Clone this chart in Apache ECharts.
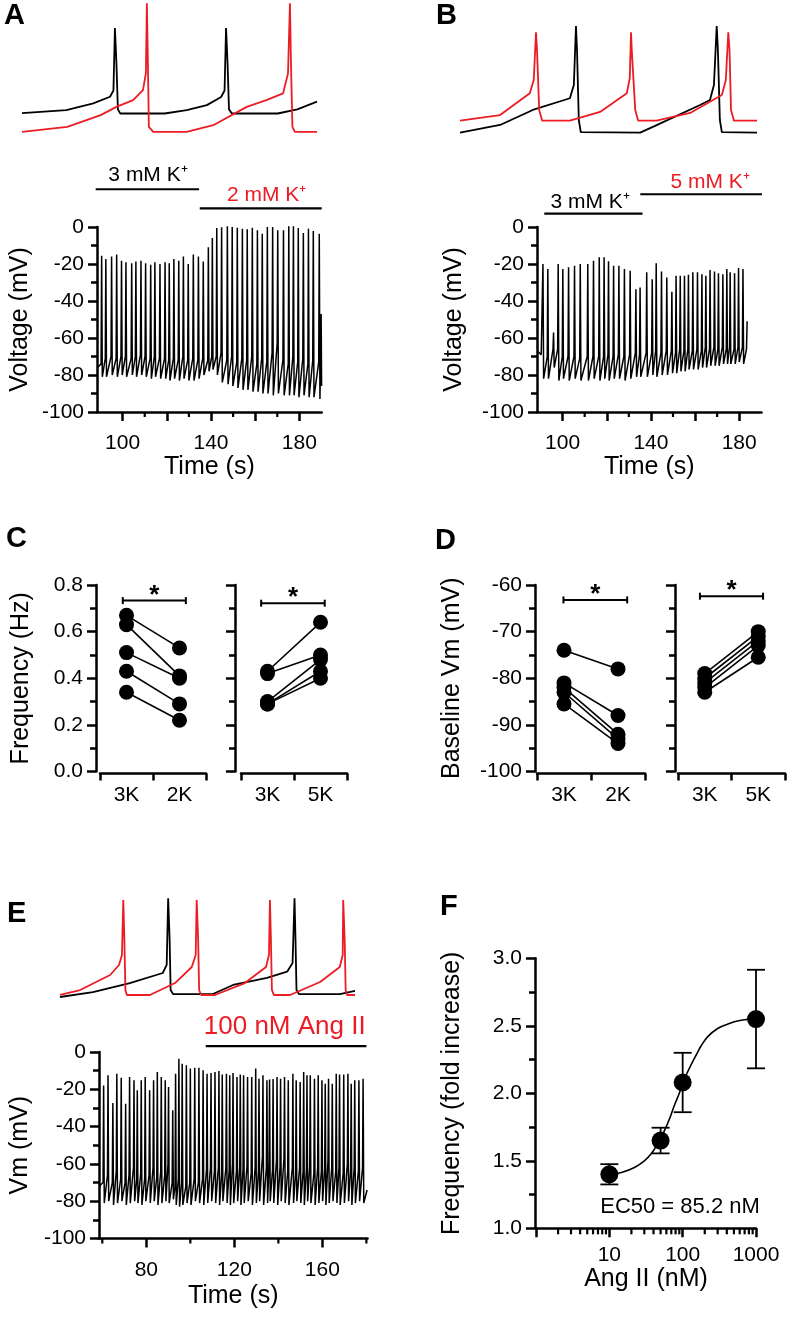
<!DOCTYPE html>
<html>
<head>
<meta charset="utf-8">
<script src="https://cdn.jsdelivr.net/npm/echarts@6.0.0/dist/echarts.min.js"></script>
<style>html,body{margin:0;padding:0;background:#fff;}#chart{width:793px;height:1317px;}</style>
</head>
<body>
<div id="chart"></div>
<script>
// ================= DATA =================
// Panel A inset traces (time s, mV; offset display)
const insetA_black = [[0,-83.2],[0.9,-80.7],[1.45,-74.9],[1.79,-69.3],[1.86,-64],[1.89,-11.2],[1.92,-40],[1.95,-80],[2.0,-83.5],[2.9,-83.5],[3.35,-80.7],[3.76,-76.4],[4.05,-69.5],[4.12,-64],[4.15,-11.2],[4.18,-40],[4.21,-80],[4.27,-83.5],[5.2,-83.5],[5.6,-80],[6.0,-73.5]];
const insetA_red = [[0,-99.1],[0.92,-94.8],[1.6,-84.9],[1.92,-77.9],[2.26,-72.2],[2.46,-63.7],[2.52,-49.3],[2.54,9.7],[2.56,-40],[2.58,-94.8],[2.67,-99.1],[3.35,-99.1],[3.89,-93.4],[4.57,-77.9],[4.97,-72.2],[5.31,-66.5],[5.41,-49.6],[5.45,9.7],[5.47,-40],[5.50,-94.8],[5.55,-99.1],[6.0,-99.1]];

// Panel A recording: spike times (s), peaks, after-spike troughs, pre-spike feet (mV)
const traceA_head = [[88.6,-76]];
const spikeA_time = [90.5,92.4,95.0,97.3,99.5,101.5,104.1,106.0,108.3,110.4,112.7,114.6,116.9,119.2,121.1,123.2,125.4,127.5,129.7,132.0,134.3,136.5,138.8,140.6,142.6,144.8,147.4,149.6,151.9,154.2,156.4,158.7,161.0,163.2,165.5,167.9,170.2,172.8,175.2,177.3,179.5,181.8,184.1,186.3,189.0];
const spikeA_peak = [-15.5,-17.3,-16,-14.9,-18.2,-19.1,-19.6,-18.7,-18.2,-19.6,-20.4,-19.1,-20,-19.1,-19.6,-17.3,-18.2,-16,-20,-14.9,-16,-18.7,-11,-6,-0.5,-0.2,1.2,0,-0.4,-1,-1.2,-0.4,-1.8,-3.6,0,0,-1.8,-1.8,1.2,0.8,-0.5,-3.2,-1,-2.2,-3.6];
const spikeA_trough = [-81,-81,-80,-81,-80,-81,-80,-81,-80,-81,-82,-81,-82,-82,-83,-82,-83,-82,-83,-83,-82,-80,-78,-77,-80,-84,-85,-86,-87,-88,-88,-89,-89,-90,-90,-91,-90,-91,-91,-91,-92,-91,-92,-92,-93];
const spikeA_foot = [-74,-71,-70,-71,-70,-70,-71,-70,-69,-70,-71,-70,-71,-71,-72,-71,-72,-70,-72,-71,-72,-71,-72,-70,-70,-68,-72,-70,-73,-71,-72,-70,-74,-71,-73,-68,-63,-72,-74,-70,-73,-71,-74,-72,-73];
const traceA_tail = [[189.6,-72],[189.85,-47],[190.05,-86]];
const condA_from = [87.8, 134.9];
const condA_to = [134.6, 190.1];
const condA_text = ['3 mM K\u207A', '2 mM K\u207A'];

// Panel B inset
const insetB_red = [[0,-89.6],[0.81,-84.8],[1.41,-66.4],[1.49,-55.2],[1.535,-14.8],[1.556,-29.8],[1.6,-80.5],[1.66,-89.6],[2.22,-89.6],[2.83,-82.2],[3.37,-66.4],[3.43,-53.5],[3.455,-14.8],[3.47,-29.8],[3.54,-80.5],[3.6,-89.6],[3.97,-89.6],[4.65,-83],[5.29,-67.8],[5.37,-55.2],[5.42,-14.8],[5.445,-29.8],[5.475,-80.5],[5.535,-89.6],[6.0,-89.6]];
const insetB_black = [[0,-99.7],[0.81,-93.2],[1.47,-80.5],[2.22,-70.6],[2.30,-59.4],[2.343,-9.5],[2.364,-29.8],[2.40,-89],[2.44,-99.2],[3.64,-99.7],[3.94,-94],[4.85,-76.3],[5.05,-72.1],[5.13,-59.4],[5.186,-9.5],[5.21,-29.8],[5.25,-89],[5.29,-99.2],[6.0,-99.7]];

// Panel B recording
const traceB_head = [[88.5,-67],[90.3,-69]];
const spikeB_time = [91.1,93.3,95.9,98.0,100.1,102.7,105.4,108.0,111.4,114.0,116.6,118.8,120.8,123.1,125.5,128.0,130.6,133.2,135.1,138.1,140.6,142.4,144.8,147.2,149.5,151.4,153.3,155.2,157.0,159.0,161.1,163.1,164.9,166.8,168.8,170.6,172.6,174.4,175.9,177.9,179.7,181.7];
const spikeB_peak = [-20,-22.7,-57,-20,-22.7,-21.8,-21,-20,-20,-18.2,-16.4,-16.4,-18.5,-21,-21,-22.7,-23.6,-33.6,-32.7,-24.5,-28.2,-19.6,-24,-27.3,-35,-26.4,-26.4,-26.4,-25.8,-24.5,-24.5,-25.5,-26.4,-23.3,-24,-25,-25.5,-22.7,-24.5,-25,-22.2,-22.7];
const spikeB_trough = [-82,-82,-76,-83,-82,-83,-82,-83,-83,-82,-83,-82,-83,-82,-82,-83,-82,-81,-81,-81,-80,-81,-80,-80,-79,-79,-78,-78,-77,-77,-77,-76,-76,-75,-75,-75,-74,-74,-74,-74,-73,-74];
const spikeB_foot = [-68,-70,-66,-66,-70,-70,-70,-71,-70,-70,-70,-70,-69,-70,-69,-70,-69,-68,-69,-68,-68,-67,-68,-67,-67,-68,-66,-67,-66,-67,-66,-67,-65,-66,-65,-66,-65,-66,-65,-66,-65,-65];
const traceB_tail = [[183.3,-66],[183.6,-51]];
const condB_from = [91.7, 135.2];
const condB_to = [136.2, 190.3];
const condB_text = ['3 mM K\u207A', '5 mM K\u207A'];

// Panel C: firing frequency (Hz), paired
const cat_C1 = ['3K', '2K'];
const freq_3K_a = [0.67, 0.63, 0.51, 0.43, 0.34];
const freq_2K = [0.53, 0.41, 0.40, 0.29, 0.22];
const cat_C2 = ['3K', '5K'];
const freq_3K_b = [0.43, 0.42, 0.30, 0.29, 0.29];
const freq_5K = [0.64, 0.50, 0.48, 0.43, 0.40];

// Panel D: baseline Vm (mV), paired
const vm_3K_a = [-74, -81, -82, -83, -85.5];
const vm_2K = [-78, -88, -92, -93, -94];
const vm_3K_b = [-79, -80, -81, -82, -83];
const vm_5K = [-70, -71, -72, -73, -75.5];

// Panel E inset
const insetE_red = [[0,-76.3],[0.41,-72.1],[1.02,-59.4],[1.20,-50.9],[1.26,-42.5],[1.287,4.1],[1.31,-29.8],[1.33,-72.1],[1.36,-76.3],[1.83,-76.3],[2.34,-66.2],[2.68,-52.6],[2.76,-42.5],[2.78,4.1],[2.81,-29.8],[2.83,-72.1],[2.87,-76.3],[3.15,-76.3],[3.76,-66.2],[4.19,-52.6],[4.25,-42.5],[4.27,4.1],[4.29,-29.8],[4.31,-72.1],[4.35,-76.3],[4.68,-76.3],[5.29,-65.3],[5.69,-52.6],[5.75,-42.5],[5.76,4.1],[5.79,-29.8],[5.81,-72.1],[5.84,-76.3],[6.0,-76.3]];
const insetE_black = [[0,-78],[0.67,-73.8],[1.42,-66.2],[2.09,-57.7],[2.17,-50.9],[2.20,5.5],[2.23,-29.8],[2.25,-72.1],[2.30,-75.5],[3.11,-75.5],[3.52,-67.8],[4.21,-61.9],[4.62,-56.6],[4.73,-49.2],[4.77,5.5],[4.79,-29.8],[4.81,-72.1],[4.86,-75.5],[5.69,-75.5],[6.0,-72.9]];

// Panel E recording
const traceE_head = [[58.6,-72]];
const spikeE_time = [60.6,62.6,64.8,66.6,68.6,70.6,72.4,74.4,75.9,77.7,79.5,81.5,83.3,85.0,86.8,88.6,90.1,92.0,93.3,94.8,96.3,98.2,100.0,102.0,103.9,105.8,107.6,109.4,111.2,113.0,114.5,116.4,117.9,119.4,121.2,122.7,124.2,126.0,127.9,129.7,131.2,133.0,134.8,136.0,137.6,139.4,141.0,142.8,144.5,146.6,148.1,149.9,151.5,153.0,154.5,156.4,158.1,159.8,161.3,162.8,164.5,166.3,167.8,169.7,171.6,173.1,174.7,176.6,178.5];
const spikeE_peak = [-17.9,-12.5,-27.3,-11.6,-13.8,-27.7,-13.4,-15.2,-20.5,-15.2,-13.4,-20.5,-15.2,-10.7,-13.4,-15.2,-18.8,-31.3,-11.6,-3.6,-6.3,-7.1,-8.9,-8.4,-8.4,-9.8,-11.6,-11.3,-10.7,-10.2,-12,-11.6,-12.5,-11.3,-13.4,-12,-12.5,-13.4,-13.4,-8.9,-14.3,-12.5,-15.2,-14.8,-14.5,-13.4,-14.3,-13.4,-15.2,-11.6,-15.2,-16.1,-10.7,-12.5,-12.5,-14.3,-12.5,-15.2,-17,-14.3,-17,-11.6,-12.1,-12,-11.6,-17,-15.2,-15.2,-14.3];
const spikeE_trough = [-81,-80,-82,-81,-80,-82,-81,-80,-81,-82,-80,-81,-80,-82,-81,-80,-81,-79,-82,-83,-82,-81,-82,-80,-81,-82,-81,-80,-81,-82,-80,-81,-82,-81,-80,-82,-81,-80,-82,-81,-80,-82,-81,-80,-81,-82,-80,-81,-82,-81,-80,-81,-82,-80,-81,-82,-81,-80,-82,-81,-80,-81,-82,-81,-80,-82,-81,-80,-81];
const spikeE_foot = [-70,-66,-70,-64,-68,-70,-66,-62,-68,-65,-68,-66,-62,-67,-64,-66,-60,-70,-72,-68,-70,-72,-70,-68,-70,-68,-63,-62,-64,-62,-65,-62,-63,-60,-64,-62,-63,-61,-65,-62,-64,-56,-62,-60,-63,-58,-62,-57,-64,-62,-65,-62,-64,-63,-61,-65,-62,-64,-63,-58,-62,-64,-62,-65,-60,-63,-62,-64,-62];
const traceE_tail = [[180.3,-74]];
const condE_from = [107.0];
const condE_to = [180.0];
const condE_text = ['100 nM Ang II'];

// Panel F: dose-response
const angConc = [10, 50, 100, 1000];
const foldMean = [1.40, 1.65, 2.08, 2.55];
const foldErr = [0.075, 0.095, 0.22, 0.365];
const fitConc = [10, 15, 22, 30, 37, 45, 56, 65, 77, 90, 100, 115, 130, 155, 178, 220, 300, 400, 507, 700, 1000];
const fitFold = [1.395, 1.415, 1.45, 1.50, 1.55, 1.62, 1.72, 1.80, 1.91, 2.00, 2.07, 2.15, 2.21, 2.29, 2.35, 2.42, 2.48, 2.51, 2.53, 2.545, 2.555];

// Tick values
const ticksAB_major = [100, 120, 140, 160, 180];
const ticksAB_minor = [110, 130, 150, 170];
const labelsAB = [100, 140, 180];
const ticksE_major = [80, 120, 160];
const ticksE_minor = [60, 100, 140, 180];
const logMinor = [2,3,4,5,6,7,8,9,20,30,40,50,60,70,80,90,200,300,400,500,600,700,800,900];

// ================= LAYOUT / STYLE =================
const FONT = "'Liberation Sans', Arial, sans-serif";
const RED = '#ec1c24';
const TICK_FS = 21, NAME_FS = 25;
// annotation layout (data coordinates of bar levels and label anchors)
const layA = {level: [20.4, 10.1], labelX: [111.5, 165.2], labelY: [28.1, 17.3], colors: ['#000', RED], fs: 21};
const layB = {level: [7.2, 17.7], labelX: [112.5, 166.8], labelY: [13.3, 24.0], colors: ['#000', RED], fs: 21};
const layE = {level: [3.1], labelX: [142.9], labelY: [13.4], colors: [RED], fs: 26};
const sigLay = {C1: [0.43, 1.62, 0.733], C2: [0.38, 1.58, 0.722], D1: [0.49, 1.67, -63.2], D2: [0.41, 1.59, -62.4]};

function buildTrace(head, t, pk, tr, ft, tail) {
  const pts = head.slice();
  for (let i = 0; i < t.length; i++) {
    pts.push([t[i] - 0.25, ft[i]]);
    pts.push([t[i], pk[i]]);
    pts.push([t[i] + 0.3, tr[i]]);
  }
  return pts.concat(tail);
}

const lineSt = {color: '#000', width: 2.5};
const tickSt = {color: '#000', width: 2.5};
const lblSt = {color: '#000', fontSize: TICK_FS, fontFamily: FONT};
const nameSt = {color: '#000', fontSize: NAME_FS, fontFamily: FONT};

const grids = [
  {left: 22, top: 3, width: 295, height: 130},      // 0 A inset
  {left: 97, top: 227, width: 224.7, height: 185},  // 1 A
  {left: 460, top: 3, width: 297, height: 130},     // 2 B inset
  {left: 537, top: 227, width: 224.5, height: 185}, // 3 B
  {left: 100, top: 585, width: 106, height: 186.5}, // 4 C1
  {left: 241, top: 585, width: 106, height: 186.5}, // 5 C2
  {left: 537, top: 585, width: 108, height: 186.5}, // 6 D1
  {left: 678, top: 585, width: 107, height: 186.5}, // 7 D2
  {left: 60, top: 893, width: 295, height: 130},    // 8 E inset
  {left: 99, top: 1052, width: 268.5, height: 186.5}, // 9 E
  {left: 536, top: 958.3, width: 220, height: 270}  // 10 F
];

function hiddenX(g, min, max) { return {gridIndex: g, type: 'value', min, max, show: false}; }
function hiddenY(g, min, max) { return {gridIndex: g, type: 'value', min, max, show: false}; }
function timeX(g, min, max, majors, labels, nameGap) {
  return {gridIndex: g, type: 'value', min, max,
    axisLine: {show: true, onZero: false, lineStyle: lineSt},
    axisTick: {show: true, length: 9, lineStyle: tickSt, customValues: majors},
    axisLabel: {show: true, customValues: labels, margin: 21, ...lblSt},
    splitLine: {show: false},
    name: 'Time (s)', nameLocation: 'middle', nameGap, nameTextStyle: nameSt};
}
function valY(g, min, max, interval, name, nameGap, fmt, showLabels, offset) {
  return {gridIndex: g, type: 'value', min, max, interval, offset: offset || 0,
    axisLine: {show: true, onZero: false, lineStyle: lineSt},
    axisTick: {show: true, length: 9, lineStyle: tickSt},
    minorTick: {show: true, splitNumber: 2, length: 6, lineStyle: {color: '#000', width: 2.5}},
    axisLabel: {show: showLabels, margin: 13, formatter: fmt, ...lblSt},
    splitLine: {show: false}, minorSplitLine: {show: false},
    name: name, nameLocation: 'middle', nameGap, nameRotate: 90, nameTextStyle: nameSt};
}
function catX(g, cats) {
  return {gridIndex: g, type: 'category', data: cats, boundaryGap: true, offset: 2,
    axisLine: {show: true, onZero: false, lineStyle: lineSt},
    axisTick: {show: true, alignWithLabel: false, length: 7, lineStyle: tickSt},
    axisLabel: {margin: 11, ...lblSt}, splitLine: {show: false}};
}

const xAxes = [
  hiddenX(0, 0, 6),
  timeX(1, 88.4, 190.1, ticksAB_major, labelsAB, 43),
  hiddenX(2, 0, 6),
  timeX(3, 88.4, 190.1, ticksAB_major, labelsAB, 43),
  catX(4, cat_C1), catX(5, cat_C2), catX(6, cat_C1), catX(7, cat_C2),
  hiddenX(8, 0, 6),
  timeX(9, 58.5, 180.5, ticksE_major, ticksE_major, 45),
  {gridIndex: 10, type: 'log', logBase: 10, min: 1, max: 1000,
    axisLine: {show: true, onZero: false, lineStyle: lineSt},
    axisTick: {show: true, length: 9, lineStyle: tickSt},
    axisLabel: {margin: 16, formatter: v => (Math.round(v) === 1 ? '' : String(Math.round(v))), ...lblSt},
    splitLine: {show: false}, minorTick: {show: false},
    name: 'Ang II (nM)', nameLocation: 'middle', nameGap: 36, nameTextStyle: nameSt},
  hiddenX(4, 0, 2), hiddenX(5, 0, 2), hiddenX(6, 0, 2), hiddenX(7, 0, 2)
];
const fmtInt = v => String(v);
const fmt1 = v => v.toFixed(1);
const yAxes = [
  hiddenY(0, -100, 10),
  valY(1, -100, 0, 20, 'Voltage (mV)', 64, fmtInt, true),
  hiddenY(2, -100, 10),
  valY(3, -100, 0, 20, 'Voltage (mV)', 70, fmtInt, true),
  valY(4, 0, 0.8, 0.2, 'Frequency (Hz)', 62, fmt1, true, 4),
  valY(5, 0, 0.8, 0.2, '', 10, fmt1, false, 6),
  valY(6, -100, -60, 10, 'Baseline Vm (mV)', 70, fmtInt, true, 2),
  valY(7, -100, -60, 10, '', 10, fmtInt, false, 3),
  hiddenY(8, -100, 10),
  valY(9, -100, 0, 20, 'Vm (mV)', 66, fmtInt, true),
  valY(10, 1, 3, 0.5, 'Frequency (fold increase)', 70, fmt1, true, 1)
];

function txtStyle(text, fill, font, align, valign) {
  return {text, fill, font, align, verticalAlign: valign, textAlign: align, textVerticalAlign: valign};
}
function condRender(texts, lay) {
  return function (params, api) {
    const i = params.dataIndex;
    const a = api.coord([api.value(0), api.value(2)]);
    const b = api.coord([api.value(1), api.value(2)]);
    const t = api.coord([lay.labelX[i], lay.labelY[i]]);
    return {type: 'group', children: [
      {type: 'line', shape: {x1: a[0], y1: a[1], x2: b[0], y2: b[1]}, style: {stroke: '#000', lineWidth: 2.2}},
      {type: 'text', x: t[0], y: t[1], style: txtStyle(texts[i], lay.colors[i], lay.fs + 'px ' + FONT, 'center', 'middle')}
    ]};
  };
}
function sigRender(params, api) {
  const a = api.coord([api.value(0), api.value(2)]);
  const b = api.coord([api.value(1), api.value(2)]);
  const c = (a[0] + b[0]) / 2;
  const st = {stroke: '#000', lineWidth: 2};
  return {type: 'group', children: [
    {type: 'line', shape: {x1: a[0], y1: a[1], x2: b[0], y2: b[1]}, style: st},
    {type: 'line', shape: {x1: a[0], y1: a[1] - 3.5, x2: a[0], y2: a[1] + 3.5}, style: st},
    {type: 'line', shape: {x1: b[0], y1: b[1] - 3.5, x2: b[0], y2: b[1] + 3.5}, style: st},
    {type: 'text', x: c, y: a[1] - 5, style: txtStyle('*', '#000', 'bold 26px ' + FONT, 'center', 'middle')}
  ]};
}
function tickRender(len) {
  return function (params, api) {
    const p = api.coord([api.value(0), api.value(1)]);
    return {type: 'line', shape: {x1: p[0], y1: p[1], x2: p[0], y2: p[1] + len}, style: {stroke: '#000', lineWidth: 2.2}};
  };
}
function errRender(params, api) {
  const x = api.value(0);
  const lo = api.coord([x, api.value(1)]);
  const hi = api.coord([x, api.value(2)]);
  const w = 9, st = {stroke: '#000', lineWidth: 1.8};
  return {type: 'group', children: [
    {type: 'line', shape: {x1: lo[0], y1: lo[1], x2: hi[0], y2: hi[1]}, style: st},
    {type: 'line', shape: {x1: lo[0] - w, y1: lo[1], x2: lo[0] + w, y2: lo[1]}, style: st},
    {type: 'line', shape: {x1: hi[0] - w, y1: hi[1], x2: hi[0] + w, y2: hi[1]}, style: st}
  ]};
}

const series = [];
function traceSeries(xi, yi, data, color, w) {
  series.push({type: 'line', xAxisIndex: xi, yAxisIndex: yi, data, showSymbol: false, symbol: 'none',
    lineStyle: {color, width: w, opacity: 1}, itemStyle: {color}, sampling: null, z: 3});
}
// Insets
traceSeries(0, 0, insetA_black, '#000', 1.8);
traceSeries(0, 0, insetA_red, RED, 1.8);
traceSeries(2, 2, insetB_black, '#000', 1.8);
traceSeries(2, 2, insetB_red, RED, 1.8);
traceSeries(8, 8, insetE_black, '#000', 1.8);
traceSeries(8, 8, insetE_red, RED, 1.8);
// Recordings
traceSeries(1, 1, buildTrace(traceA_head, spikeA_time, spikeA_peak, spikeA_trough, spikeA_foot, traceA_tail), '#000', 1.5);
traceSeries(3, 3, buildTrace(traceB_head, spikeB_time, spikeB_peak, spikeB_trough, spikeB_foot, traceB_tail), '#000', 1.5);
traceSeries(9, 9, buildTrace(traceE_head, spikeE_time, spikeE_peak, spikeE_trough, spikeE_foot, traceE_tail), '#000', 1.5);
// Condition bars
function condSeries(xi, yi, from, to, texts, lay) {
  series.push({type: 'custom', xAxisIndex: xi, yAxisIndex: yi, clip: false, z: 5,
    data: from.map((f, i) => [f, to[i], lay.level[i]]), renderItem: condRender(texts, lay)});
}
condSeries(1, 1, condA_from, condA_to, condA_text, layA);
condSeries(3, 3, condB_from, condB_to, condB_text, layB);
condSeries(9, 9, condE_from, condE_to, condE_text, layE);
// Minor x ticks
function minorTickSeries(xi, yi, vals, base, len) {
  series.push({type: 'custom', xAxisIndex: xi, yAxisIndex: yi, clip: false, z: 5,
    data: vals.map(v => [v, base]), renderItem: tickRender(len)});
}
minorTickSeries(1, 1, ticksAB_minor, -100, 5);
minorTickSeries(3, 3, ticksAB_minor, -100, 5);
minorTickSeries(9, 9, ticksE_minor, -100, 5);
minorTickSeries(10, 10, logMinor, 1, 6);
// Paired plots
function pairedSeries(xi, yi, cats, pre, post, sxi, sig) {
  pre.forEach((v, i) => {
    series.push({type: 'line', xAxisIndex: xi, yAxisIndex: yi, data: [[cats[0], v], [cats[1], post[i]]],
      symbol: 'none', showSymbol: false, lineStyle: {color: '#000', width: 1.6}, z: 2});
  });
  series.push({type: 'scatter', xAxisIndex: xi, yAxisIndex: yi, symbol: 'circle', symbolSize: 15,
    itemStyle: {color: '#000', opacity: 1}, z: 4,
    data: pre.map(v => [cats[0], v]).concat(post.map(v => [cats[1], v]))});
  series.push({type: 'custom', xAxisIndex: sxi, yAxisIndex: yi, clip: false, z: 5, data: [sig], renderItem: sigRender});
}
pairedSeries(4, 4, cat_C1, freq_3K_a, freq_2K, 11, sigLay.C1);
pairedSeries(5, 5, cat_C2, freq_3K_b, freq_5K, 12, sigLay.C2);
pairedSeries(6, 6, cat_C1, vm_3K_a, vm_2K, 13, sigLay.D1);
pairedSeries(7, 7, cat_C2, vm_3K_b, vm_5K, 14, sigLay.D2);
// Dose response
series.push({type: 'line', xAxisIndex: 10, yAxisIndex: 10, data: fitConc.map((c, i) => [c, fitFold[i]]),
  smooth: 0.4, symbol: 'none', showSymbol: false, lineStyle: {color: '#000', width: 1.6}, z: 2});
series.push({type: 'custom', xAxisIndex: 10, yAxisIndex: 10, clip: false, z: 3,
  data: angConc.map((c, i) => [c, foldMean[i] - foldErr[i], foldMean[i] + foldErr[i]]), renderItem: errRender});
series.push({type: 'scatter', xAxisIndex: 10, yAxisIndex: 10, symbolSize: 18, itemStyle: {color: '#000', opacity: 1}, z: 4,
  data: angConc.map((c, i) => [c, foldMean[i]])});

const letterFont = 'bold 29px ' + FONT;
const graphic = [
  {type: 'text', left: 4, top: 1, style: {text: 'A', font: letterFont, fill: '#000'}},
  {type: 'text', left: 436, top: 1, style: {text: 'B', font: letterFont, fill: '#000'}},
  {type: 'text', left: 6, top: 524, style: {text: 'C', font: letterFont, fill: '#000'}},
  {type: 'text', left: 435, top: 526, style: {text: 'D', font: letterFont, fill: '#000'}},
  {type: 'text', left: 7, top: 899, style: {text: 'E', font: letterFont, fill: '#000'}},
  {type: 'text', left: 440, top: 892, style: {text: 'F', font: letterFont, fill: '#000'}},
  {type: 'text', x: 680, y: 1207, style: txtStyle('EC50 = 85.2 nM', '#000', '22px ' + FONT, 'center', 'middle')}
];

const chart = echarts.init(document.getElementById('chart'), null, {renderer: 'canvas', width: 793, height: 1317});
chart.setOption({
  animation: false,
  backgroundColor: '#fff',
  textStyle: {fontFamily: FONT},
  grid: grids,
  xAxis: xAxes,
  yAxis: yAxes,
  series,
  graphic
});
</script>
</body>
</html>
